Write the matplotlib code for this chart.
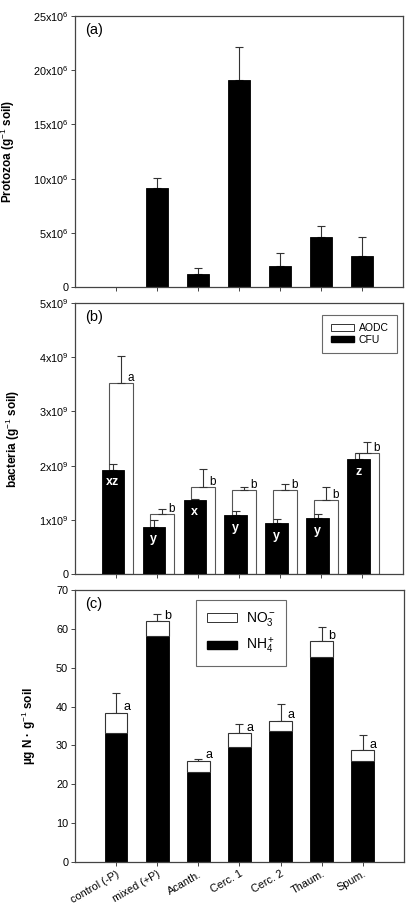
import matplotlib
matplotlib.use("Agg")
import matplotlib.pyplot as plt
from matplotlib.patches import Patch
import numpy as np

plt.rcParams['font.family'] = ['Liberation Sans', 'DejaVu Sans']
plt.rcParams['mathtext.fontset'] = 'custom'
plt.rcParams['mathtext.rm'] = 'Liberation Sans'
plt.rcParams['mathtext.it'] = 'Liberation Sans:italic'
plt.rcParams['mathtext.bf'] = 'Liberation Sans:bold'

categories = ['control (-P)', 'mixed (+P)', 'Acanth.', 'Cerc. 1', 'Cerc. 2', 'Thaum.', 'Spum.']

protozoa = [0, 9.1e6, 1.2e6, 19.1e6, 1.95e6, 4.6e6, 2.9e6]
protozoa_err = [0, 0.98e6, 0.6e6, 3.0e6, 1.23e6, 1.0e6, 1.75e6]

aodc = [3.53e9, 1.11e9, 1.60e9, 1.55e9, 1.55e9, 1.37e9, 2.23e9]
aodc_err = [0.50e9, 0.09e9, 0.33e9, 0.05e9, 0.11e9, 0.24e9, 0.20e9]
cfu = [1.92e9, 0.87e9, 1.37e9, 1.08e9, 0.94e9, 1.03e9, 2.12e9]
cfu_err = [0.11e9, 0.13e9, 0.02e9, 0.08e9, 0.08e9, 0.08e9, 0.11e9]
aodc_letters = ['a', 'b', 'b', 'b', 'b', 'b', 'b']
cfu_letters = ['xz', 'y', 'x', 'y', 'y', 'y', 'z']

nh4 = [33.2, 58.2, 23.2, 29.6, 33.6, 52.8, 26.0]
total_n = [38.4, 61.9, 26.1, 33.2, 36.4, 56.8, 28.7]
total_n_err = [5.0, 2.0, 0.5, 2.2, 4.3, 3.6, 3.9]
n_letters = ['a', 'b', 'a', 'a', 'a', 'b', 'a']

a_ticks = [0, 5e6, 10e6, 15e6, 20e6, 25e6]
a_ticklabels = ['0', '5x10$^6$', '10x10$^6$', '15x10$^6$', '20x10$^6$', '25x10$^6$']
b_ticks = [0, 1e9, 2e9, 3e9, 4e9, 5e9]
b_ticklabels = ['0', '1x10$^9$', '2x10$^9$', '3x10$^9$', '4x10$^9$', '5x10$^9$']
c_ticks = [0, 10, 20, 30, 40, 50, 60, 70]

x = np.arange(1, len(categories) + 1)
W = 0.55
ecol = '#333333'
spc = '#444444'

fig = plt.figure(figsize=(4.15, 9.1), dpi=100)
axa = fig.add_axes([0.181, 0.6846, 0.790, 0.2978])
axb = fig.add_axes([0.181, 0.3692, 0.790, 0.2978])
axc = fig.add_axes([0.181, 0.0527, 0.792, 0.2990])


def style(ax):
    for s in ax.spines.values():
        s.set_color(spc)
        s.set_linewidth(0.9)
    ax.tick_params(axis='both', which='both', direction='out', length=3,
                   width=0.7, color=spc, labelsize=7.8, pad=2, top=False, right=False)
    ax.set_xlim(0, 8)
    ax.set_xticks(x)


# (a)
style(axa)
axa.bar(x, protozoa, width=W, color='black', edgecolor='black', linewidth=0.6, zorder=2)
mask = np.array(protozoa) > 0
axa.errorbar(x[mask], np.array(protozoa)[mask],
             yerr=[np.zeros(mask.sum()), np.array(protozoa_err)[mask]],
             fmt='none', ecolor=ecol, elinewidth=0.8, capsize=3, capthick=0.8, zorder=1)
axa.set_ylim(0, 25e6)
axa.set_yticks(a_ticks)
axa.set_yticklabels(a_ticklabels)
axa.set_xticklabels([])
axa.set_ylabel('Protozoa (g$^{-1}$ soil)', fontsize=8.5, fontweight='bold')
axa.yaxis.set_label_coords(-0.177, 0.5)
axa.text(0.03, 0.975, '(a)', transform=axa.transAxes, fontsize=10.5, va='top', ha='left')

# (b)
style(axb)
off_w = 0.12
off_b = -0.08
axb.bar(x + off_w, aodc, width=0.57, color='white', edgecolor='#555555', linewidth=0.8, zorder=1)
axb.errorbar(x + off_w, aodc, yerr=[np.zeros(7), aodc_err], fmt='none', ecolor=ecol,
             elinewidth=0.8, capsize=3, capthick=0.8, zorder=1)
axb.bar(x + off_b, cfu, width=0.55, color='black', edgecolor='black', linewidth=0.6, zorder=3)
axb.errorbar(x + off_b, cfu, yerr=[np.zeros(7), cfu_err], fmt='none', ecolor=ecol,
             elinewidth=0.8, capsize=3, capthick=0.8, zorder=2)
for i in range(7):
    axb.text(x[i] + off_w + 0.16, aodc[i] + 0.09e9, aodc_letters[i], fontsize=8.5,
             ha='left', va='center', zorder=4)
    axb.text(x[i] + off_b, cfu[i] - 0.23e9, cfu_letters[i], fontsize=9, color='white',
             fontweight='bold', ha='center', va='center', zorder=4)
axb.set_ylim(0, 5e9)
axb.set_yticks(b_ticks)
axb.set_yticklabels(b_ticklabels)
axb.set_xticklabels([])
axb.set_ylabel('bacteria (g$^{-1}$ soil)', fontsize=8.5, fontweight='bold')
axb.yaxis.set_label_coords(-0.162, 0.5)
axb.text(0.03, 0.975, '(b)', transform=axb.transAxes, fontsize=10.5, va='top', ha='left')
hb = [Patch(facecolor='white', edgecolor='#333333', linewidth=0.7, label='AODC'),
      Patch(facecolor='black', edgecolor='black', label='CFU')]
lb = axb.legend(handles=hb, loc='upper right', bbox_to_anchor=(0.982, 0.956), fontsize=7.5,
                frameon=True, fancybox=False, edgecolor='#444444', handlelength=2.2,
                handleheight=0.6, labelspacing=0.15, borderpad=0.8, handletextpad=0.5,
                borderaxespad=0)
lb.get_frame().set_linewidth(0.8)

# (c)
style(axc)
no3 = np.array(total_n) - np.array(nh4)
axc.bar(x, nh4, width=W, color='black', edgecolor='black', linewidth=0.6, zorder=2)
axc.bar(x, no3, bottom=nh4, width=W, color='white', edgecolor='#333333', linewidth=0.8, zorder=2)
axc.errorbar(x, total_n, yerr=[np.zeros(7), total_n_err], fmt='none', ecolor=ecol,
             elinewidth=0.8, capsize=3, capthick=0.8, zorder=1)
for i in range(7):
    axc.text(x[i] + 0.17, total_n[i] + 1.4, n_letters[i], fontsize=9, ha='left', va='center',
             zorder=4)
axc.set_ylim(0, 70)
axc.set_yticks(c_ticks)
axc.set_xticklabels(categories, rotation=30, ha='right', rotation_mode='anchor', fontsize=7.8)
axc.set_ylabel('µg N · g$^{-1}$ soil', fontsize=8.5, fontweight='bold')
axc.yaxis.set_label_coords(-0.113, 0.5)
axc.text(0.03, 0.975, '(c)', transform=axc.transAxes, fontsize=10.5, va='top', ha='left')
hc = [Patch(facecolor='white', edgecolor='#333333', linewidth=0.7, label='NO$_3^-$'),
      Patch(facecolor='black', edgecolor='black', label='NH$_4^+$')]
lc = axc.legend(handles=hc, loc='upper left', bbox_to_anchor=(0.369, 0.963), fontsize=10,
                frameon=True, fancybox=False, edgecolor='#444444', handlelength=2.2,
                handleheight=0.55, labelspacing=0.55, borderpad=0.75, handletextpad=0.6,
                borderaxespad=0)
lc.get_frame().set_linewidth(0.8)

fig.savefig('out.png', dpi=100)
